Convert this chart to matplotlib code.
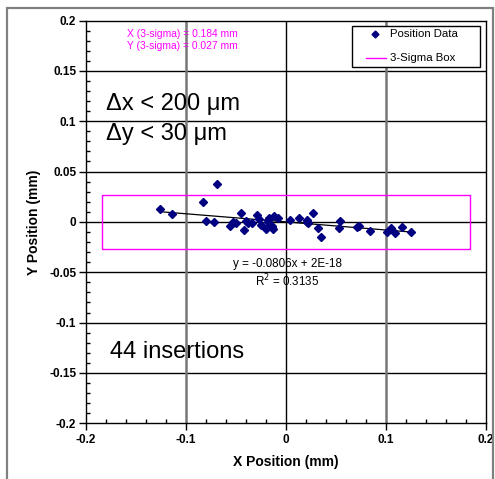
import numpy as np
import matplotlib
matplotlib.use("Agg")
import matplotlib.pyplot as plt
from matplotlib.lines import Line2D
from matplotlib.patches import Rectangle
from matplotlib.ticker import MultipleLocator

plt.rcParams['font.family'] = ['Liberation Sans', 'DejaVu Sans']

# Measured insertion offsets (mm)
x_pos = [-0.126, -0.114, -0.083, -0.080, -0.072, -0.069, -0.056, -0.053, -0.050,
         -0.045, -0.042, -0.040, -0.0377, -0.0337, -0.0293, -0.027, -0.025,
         -0.0203, -0.018, -0.0177, -0.017, -0.0143, -0.0135, -0.0127, -0.012,
         -0.0083, 0.004, 0.013, 0.0207, 0.0213, 0.0217, 0.0267, 0.0323, 0.035,
         0.053, 0.054, 0.0707, 0.0733, 0.084, 0.101, 0.1047, 0.109, 0.1157, 0.1247]
y_pos = [0.0126, 0.0077, 0.020, 0.0007, -0.0003, 0.0374, -0.0037, -0.0003, -0.0013,
         0.0086, -0.0079, 0.0013, -0.0007, -0.0013, 0.0070, 0.0027, -0.003,
         -0.007, 0.0000, 0.002, 0.0043, -0.004, -0.0055, -0.007, 0.006,
         0.0037, 0.002, 0.0037, 0.0003, 0.0020, -0.0013, 0.0086, -0.0063, -0.0146,
         -0.0063, 0.001, -0.0053, -0.0037, -0.0086, -0.0096, -0.0063, -0.0112, -0.0046, -0.0102]

# 3-sigma extents (mm)
sigma3_x = 0.184
sigma3_y = 0.027

# Linear trend coefficients
slope = -0.0806
intercept = 2e-18
r_squared = 0.3135
n_insertions = 44

NAVY = '#000080'
MAGENTA = '#FF00FF'

fig = plt.figure(figsize=(4.95, 4.79), dpi=100)
ax = fig.add_axes([0.1737, 0.1163, 0.8081, 0.8409])

# outer frame
fig.patches.append(Rectangle((7 / 495, -0.05), 486 / 495, 1 - 8 / 479 + 0.05,
                             transform=fig.transFigure, fill=False,
                             edgecolor='#808080', lw=1.6, zorder=0))

ax.set_xlim(-0.2, 0.2)
ax.set_ylim(-0.2, 0.2)

# grid
for yv in np.arange(-0.15, 0.2, 0.05):
    ax.axhline(yv, color='black', lw=1.0, zorder=1)
for xv in (-0.1, 0.1):
    ax.axvline(xv, color='#777777', lw=1.8, zorder=1)
ax.axvline(0.0, color='black', lw=1.0, zorder=1)

# 3-sigma box
ax.add_patch(Rectangle((-sigma3_x, -sigma3_y), 2 * sigma3_x, 2 * sigma3_y,
                       fill=False, edgecolor=MAGENTA, lw=1.0, zorder=2))

# data
ax.plot(x_pos, y_pos, linestyle='none', marker='D', ms=3.7, color=NAVY,
        mec=NAVY, zorder=4)

# trend line
xt = np.array([min(x_pos), max(x_pos)])
ax.plot(xt, slope * xt + intercept, color='black', lw=0.9, zorder=3)

# ticks
ax.xaxis.set_major_locator(MultipleLocator(0.1))
ax.xaxis.set_minor_locator(MultipleLocator(0.02))
ax.yaxis.set_major_locator(MultipleLocator(0.05))
ax.yaxis.set_minor_locator(MultipleLocator(0.01))
ax.tick_params(which='major', direction='out', length=5, width=1, labelsize=8.5,
               pad=2)
ax.tick_params(which='minor', direction='in', length=3, width=1)
ax.tick_params(axis='x', which='major', pad=3)
ax.set_xticks([-0.2, -0.1, 0, 0.1, 0.2])
ax.set_xticklabels(['-0.2', '-0.1', '0', '0.1', '0.2'], fontweight='bold')
ax.set_yticks([-0.2, -0.15, -0.1, -0.05, 0, 0.05, 0.1, 0.15, 0.2])
ax.set_yticklabels(['-0.2', '-0.15', '-0.1', '-0.05', '0', '0.05', '0.1', '0.15', '0.2'],
                   fontweight='bold')
for s in ax.spines.values():
    s.set_linewidth(1.0)
    s.set_color('black')

ax.set_xlabel('X Position (mm)', fontsize=10, fontweight='bold', labelpad=6)
ax.set_ylabel('Y Position (mm)', fontsize=10, fontweight='bold', labelpad=6)

# annotations
ax.text(-0.159, 0.187, 'X (3-sigma) = %.3f mm' % sigma3_x, color=MAGENTA,
        fontsize=7.4, va='center', ha='left')
ax.text(-0.159, 0.175, 'Y (3-sigma) = %.3f mm' % sigma3_y, color=MAGENTA,
        fontsize=7.4, va='center', ha='left')
ax.text(-0.18, 0.117, '\u0394x < 200 \u03bcm', fontsize=17, va='center', ha='left')
ax.text(-0.18, 0.087, '\u0394y < 30 \u03bcm', fontsize=17, va='center', ha='left')
ax.text(-0.176, -0.129, '%d insertions' % n_insertions, fontsize=17, va='center',
        ha='left')
ax.text(0.0015, -0.042, 'y = %.4fx + 2E-18' % slope, fontsize=8.4, ha='center',
        va='center')
ax.text(0.0015, -0.059, 'R$^2$ = %.4f' % r_squared, fontsize=8.4, ha='center',
        va='center')

# legend box
tr = ax.transAxes
ax.add_patch(Rectangle((0.665, 0.8846), 0.32, 0.1017, transform=tr,
                       facecolor='white', edgecolor='black', lw=1.0, zorder=5))
ax.add_line(Line2D([0.7225], [0.9665], transform=tr, linestyle='none', marker='D',
                   ms=3.5, color=NAVY, zorder=6))
ax.add_line(Line2D([0.70, 0.75], [0.9069, 0.9069], transform=tr, color=MAGENTA,
                   lw=1.0, zorder=6))
ax.text(0.76, 0.9665, 'Position Data', transform=tr, fontsize=8.2, va='center',
        ha='left', zorder=6)
ax.text(0.76, 0.9069, '3-Sigma Box', transform=tr, fontsize=8.2, va='center',
        ha='left', zorder=6)

fig.savefig('out.png', dpi=100)
